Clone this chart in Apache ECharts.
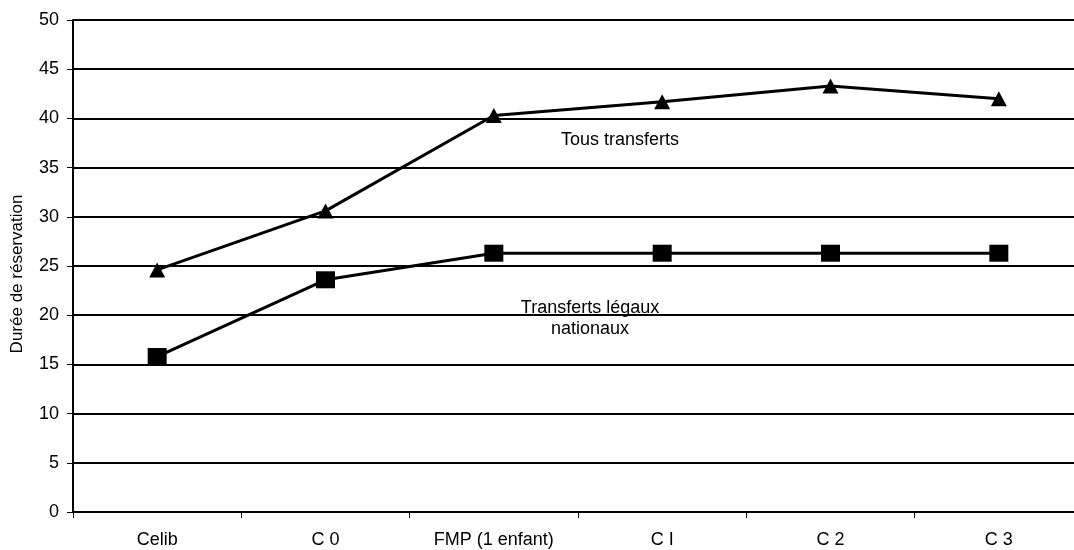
<!DOCTYPE html>
<html>
<head>
<meta charset="utf-8">
<script src="https://cdn.jsdelivr.net/npm/echarts@6/dist/echarts.min.js"></script>
<style>
  html, body { margin: 0; padding: 0; overflow: hidden; background: #fff; }
  #chart { width: 1092px; height: 550px; }
</style>
</head>
<body>
<div id="chart"></div>
<script>
const categories = ["Celib", "C 0", "FMP (1 enfant)", "C I", "C 2", "C 3"];
const tousTransferts = [24.6, 30.6, 40.3, 41.7, 43.3, 42.0];
const transfertsLegaux = [15.8, 23.6, 26.3, 26.3, 26.3, 26.3];
const yTicks = { min: 0, max: 50, interval: 5 };
const yTitle = "Durée de réservation";

const chart = echarts.init(document.getElementById("chart"));

const font = "'Liberation Sans', Arial, sans-serif";

chart.setOption({
  animation: false,
  grid: { top: 20, bottom: 38, left: 73, right: 9, outerBoundsMode: "none", containLabel: false },
  xAxis: {
    type: "category",
    data: categories,
    boundaryGap: true,
    axisLine: { lineStyle: { color: "#000", width: 2 } },
    axisTick: { show: true, length: 6, lineStyle: { color: "#000", width: 1 } },
    axisLabel: { color: "#000", fontSize: 18, fontFamily: font, margin: 19 },
  },
  yAxis: {
    type: "value",
    min: yTicks.min,
    max: yTicks.max,
    interval: yTicks.interval,
    axisLine: { show: true, lineStyle: { color: "#000", width: 2 } },
    axisTick: { show: true, length: 6, lineStyle: { color: "#000", width: 1 } },
    axisLabel: { color: "#000", fontSize: 18, fontFamily: font, margin: 14 },
    splitLine: { lineStyle: { color: "#000", width: 2 } },
  },
  series: [
    {
      name: "Tous transferts",
      type: "line",
      data: tousTransferts,
      symbol: "triangle",
      symbolSize: [16, 15],
      lineStyle: { color: "#000", width: 3 },
      itemStyle: { color: "#000" },
    },
    {
      name: "Transferts légaux nationaux",
      type: "line",
      data: transfertsLegaux,
      symbol: "rect",
      symbolSize: [19, 17],
      lineStyle: { color: "#000", width: 3 },
      itemStyle: { color: "#000" },
    },
  ],
  graphic: [
    {
      type: "text",
      x: 17, y: 274, rotation: Math.PI / 2,
      style: { text: yTitle, fill: "#000", font: "17px " + font, textAlign: "center", textVerticalAlign: "middle" },
    },
    {
      type: "text",
      x: 620, y: 140,
      style: { text: "Tous transferts", fill: "#000", font: "18px " + font, textAlign: "center", textVerticalAlign: "middle" },
    },
    {
      type: "text",
      x: 590, y: 319,
      style: { text: "Transferts légaux\nnationaux", fill: "#000", font: "18px " + font, textAlign: "center", textVerticalAlign: "middle", lineHeight: 21 },
    },
  ],
});
</script>
</body>
</html>
